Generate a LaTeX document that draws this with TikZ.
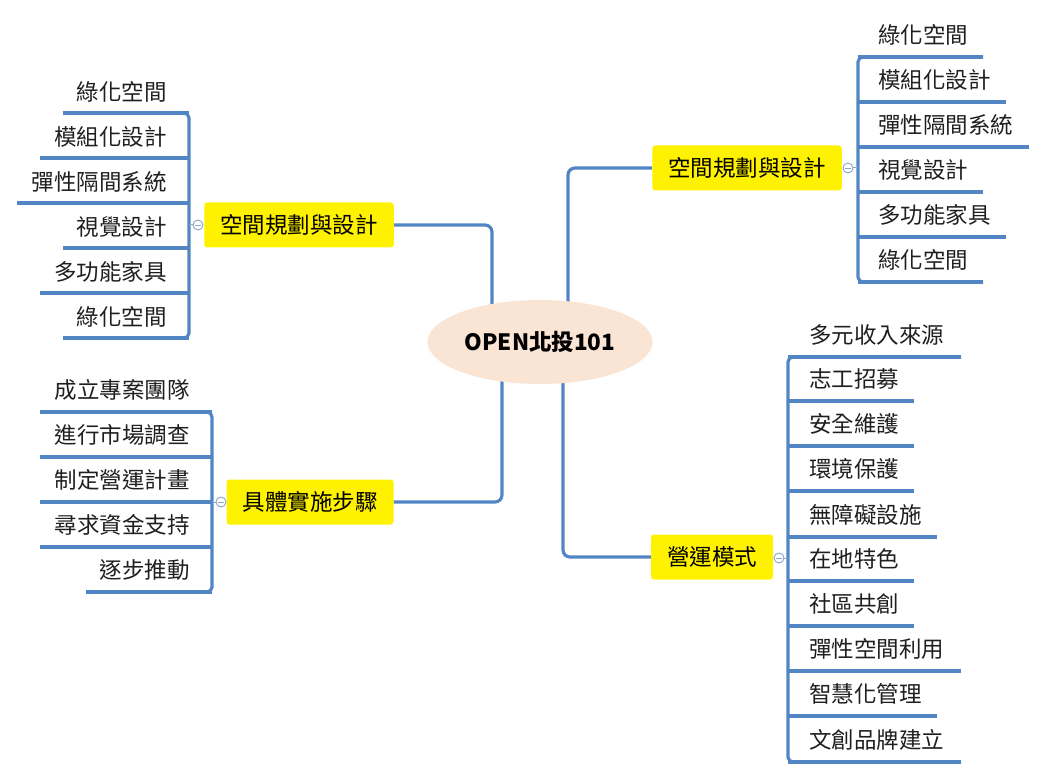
\documentclass[tikz,border=0pt]{standalone}
\usepackage{fontspec}
\newfontfamily\cjk{Noto Sans CJK TC}
\usetikzlibrary{backgrounds,shapes.geometric}
\definecolor{linec}{RGB}{82,133,196}
\definecolor{rootc}{RGB}{250,228,212}
\definecolor{markc}{RGB}{140,165,200}
\begin{document}
\begin{tikzpicture}[x=1pt,y=-1pt,
  conn/.style={draw=linec,line width=3.2pt,rounded corners=7pt},
  branch/.style={draw=linec,line width=3.2pt,rounded corners=5pt},
  topic/.style={fill=yellow,rounded corners=3pt,minimum height=45pt,inner xsep=16pt,inner ysep=0pt,font=\cjk\fontsize{22.5}{26}\selectfont},
  leaf/.style={inner sep=0pt,font=\cjk\fontsize{22.5}{26}\selectfont,text=black!88},
  rootnode/.style={ellipse,fill=rootc,minimum width=225pt,minimum height=84pt,font=\cjk\bfseries\fontsize{22.5}{26}\selectfont},
  fold/.style={circle,draw=markc,fill=white,line width=0.9pt,inner sep=0pt,minimum size=10pt,
    path picture={\draw[markc,line width=0.7pt] ([xshift=-3pt]path picture bounding box.center) -- ([xshift=3pt]path picture bounding box.center);}},
  foldlink/.style={draw=markc,line width=1pt}]
\useasboundingbox (0,0) rectangle (1047,778);

% root and main topics
\node[rootnode] (root) at (540,342) {OPEN北投101};
\node[topic] (lt) at (299,225) {空間規劃與設計};
\node[topic] (rt) at (747,168) {空間規劃與設計};
\node[topic] (lb) at (310,502) {具體實施步驟};
\node[topic] (rb) at (712,557) {營運模式};

\begin{scope}[on background layer]
\draw[conn] (lt.east) -| ([xshift=-48pt]root.center);
\draw[conn] (rt.west) -| ([xshift=28pt]root.center);
\draw[conn] (lb.east) -| ([xshift=-38pt]root.center);
\draw[conn] (rb.west) -| ([xshift=23pt]root.center);
\end{scope}

% left top branch
\draw[branch] (63,113) -- (189,113) -- (189,338) -- (63,338);
\foreach \t/\y/\l [count=\i] in {綠化空間/113/63, 模組化設計/158/40, 彈性隔間系統/203/17, 視覺設計/248/63, 多功能家具/293/40, 綠化空間/338/63}{
  \node[leaf,anchor=east] (lt\i) at (167,\y-21) {\t};
  \draw[branch] (189,\y) -- (\l,\y);
}
\node[fold] (ltf) at (198,225) {};
\draw[foldlink] (ltf.west) -- (189,225);

% right top branch
\draw[branch] (983,57) -- (858,57) -- (858,282) -- (983,282);
\foreach \t/\y/\l [count=\i] in {綠化空間/57/983, 模組化設計/102/1006, 彈性隔間系統/147/1029, 視覺設計/192/983, 多功能家具/237/1006, 綠化空間/282/983}{
  \node[leaf,anchor=west] (rt\i) at (878,\y-22) {\t};
  \draw[branch] (858,\y) -- (\l,\y);
}
\node[fold] (rtf) at (848,168) {};
\draw[foldlink] (rtf.east) -- (858,168);

% bottom left branch
\draw[branch] (40,412) -- (212,412) -- (212,592) -- (86,592);
\foreach \t/\y/\l [count=\i] in {成立專案團隊/412/40, 進行市場調查/457/40, 制定營運計畫/502/40, 尋求資金支持/547/40, 逐步推動/592/86}{
  \node[leaf,anchor=east] (lb\i) at (190,\y-22) {\t};
  \draw[branch] (212,\y) -- (\l,\y);
}
\node[fold] (lbf) at (221,502) {};
\draw[foldlink] (lbf.west) -- (212,502);

% bottom right branch
\draw[branch] (961,357) -- (788,357) -- (788,762) -- (961,762);
\foreach \t/\y/\l [count=\i] in {多元收入來源/357/961, 志工招募/401/914, 安全維護/446/914, 環境保護/491/914, 無障礙設施/537/937, 在地特色/581/914, 社區共創/626/914, 彈性空間利用/671/961, 智慧化管理/716/937, 文創品牌建立/762/961}{
  \node[leaf,anchor=west] (rb\i) at (809,\y-22) {\t};
  \draw[branch] (788,\y) -- (\l,\y);
}
\node[fold] (rbf) at (779,558) {};
\draw[foldlink] (rbf.east) -- (788,558);
\end{tikzpicture}
\end{document}
